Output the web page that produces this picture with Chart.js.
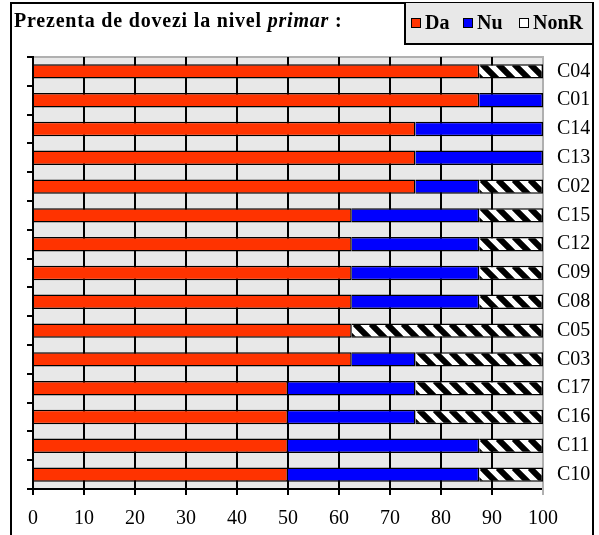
<!DOCTYPE html>
<html><head><meta charset="utf-8">
<script src="https://cdn.jsdelivr.net/npm/chart.js@4/dist/chart.umd.min.js"></script>
<style>
html,body{margin:0;padding:0;background:#fff;}
#wrap{position:relative;width:599px;height:535px;overflow:hidden;font-family:"Liberation Serif","Times New Roman",serif;}
#c{position:absolute;left:0;top:0;}
#frame{position:absolute;left:10px;top:2px;width:580px;height:600px;border:2px solid #000;border-bottom:none;pointer-events:none;}
#title{position:absolute;left:14px;top:9px;font-size:20px;font-weight:bold;letter-spacing:0.8px;white-space:nowrap;}
#legend{position:absolute;left:404px;top:3px;width:186px;height:40px;background:#e8e8e8;border-left:2px solid #000;border-bottom:2px solid #000;overflow:hidden;white-space:nowrap;font-size:20px;font-weight:bold;}
.li{position:absolute;top:8px;}
.mk{display:inline-block;width:8px;height:8px;border:1px solid #000;vertical-align:1px;margin-right:4px;}
</style></head>
<body><div id="wrap"><canvas id="c" width="599" height="535"></canvas><div id="frame"></div>
<div id="title">Prezenta de dovezi la nivel <i>primar</i> :</div>
<div id="legend"></div></div>
<script>
const categories = ["C04","C01","C14","C13","C02","C15","C12","C09","C08","C05","C03","C17","C16","C11","C10"];
const seriesNames = ["Da","Nu","NonR"];
const daValues   = [87.5,87.5,75,75,75,62.5,62.5,62.5,62.5,62.5,62.5,50,50,50,50];
const nuValues   = [0,12.5,25,25,12.5,25,25,25,25,0,12.5,25,25,37.5,37.5];
const nonRValues = [12.5,0,0,0,12.5,12.5,12.5,12.5,12.5,37.5,25,25,25,12.5,12.5];
const xTicks = [0,10,20,30,40,50,60,70,80,90,100];

const tile=(function(){
  const s=16, c=document.createElement('canvas'); c.width=s; c.height=s;
  const g=c.getContext('2d');
  g.fillStyle='#fff'; g.fillRect(0,0,s,s);
  g.strokeStyle='#000'; g.lineWidth=6;
  g.beginPath();
  for(const k of [-s,0,s]){ g.moveTo(k,0); g.lineTo(k+s,s); }
  g.stroke();
  return c;
})();
const cctx=document.getElementById('c').getContext('2d');
function hatchFor(ctx){
  const ch=ctx.chart, i=ctx.dataIndex;
  const p=cctx.createPattern(tile,'repeat');
  if(!ch.scales||!ch.scales.y||i===undefined) return p;
  const y=ch.scales.y.getPixelForValue(i);
  const x=ch.scales.x.getPixelForValue(daValues[i]+nuValues[i]);
  p.setTransform(new DOMMatrix().translate(Math.round(x)+3, Math.round(y-7)));
  return p;
}
const colors = ['#FF3300','#0000FF',hatchFor];
const legendColors = ['#FF3300','#0000FF','#FFFFFF'];
const values = [daValues,nuValues,nonRValues];

const lg=document.getElementById('legend');
const lx=[5,57,113];
seriesNames.forEach((n,i)=>{
  const d=document.createElement('span'); d.className='li'; d.style.left=lx[i]+'px';
  d.innerHTML='<span class="mk" style="background:'+legendColors[i]+'"></span>'+n;
  lg.appendChild(d);
});

const bg={id:'bg',beforeDraw(ch){const a=ch.chartArea,x=ch.ctx;x.save();x.fillStyle='#e8e8e8';x.fillRect(a.left,a.top,a.right-a.left,a.bottom-a.top);
 x.strokeStyle='#b0b0b0';x.lineWidth=2;x.beginPath();x.moveTo(a.left,a.top);x.lineTo(a.right,a.top);x.stroke();x.restore();}};

new Chart(document.getElementById('c'),{
  type:'bar',
  data:{labels:categories,datasets:values.map((v,i)=>({label:seriesNames[i],data:v.map(z=>z===0?null:z),backgroundColor:colors[i],borderColor:'#000',borderWidth:1.5,yAxisID:'y',categoryPercentage:1,barPercentage:0.5}))},
  options:{
    indexAxis:'y',responsive:false,animation:false,
    layout:{padding:{top:57,left:0,right:0,bottom:0}},
    plugins:{legend:{display:false},tooltip:{enabled:false},title:{display:false}},
    scales:{
      x:{type:'linear',position:'bottom',stacked:true,min:0,max:100,
        afterBuildTicks(s){s.ticks=xTicks.map(v=>({value:v}));},
        afterFit(s){s.height=46;},
        grid:{color:c=>c.tick&&c.tick.value===100?'#b0b0b0':'#000',lineWidth:2,tickLength:6},
        border:{color:'#000',width:2},
        ticks:{color:'#000',padding:12,font:{family:'Liberation Serif',size:20},maxRotation:0}},
      yl:{type:'category',position:'left',stacked:true,
        afterFit(s){s.width=33;},
        grid:{offset:true,drawOnChartArea:false,color:'#000',lineWidth:2,tickLength:6},
        border:{color:'#000',width:2},
        ticks:{display:false}},
      y:{type:'category',position:'right',stacked:true,
        afterFit(s){s.width=56;},
        grid:{display:false,drawTicks:false},
        border:{display:true,color:'#b0b0b0',width:2},
        ticks:{color:'#000',padding:14,font:{family:'Liberation Serif',size:20},crossAlign:'near'}}
    }
  },
  plugins:[bg]
});
</script></body></html>
